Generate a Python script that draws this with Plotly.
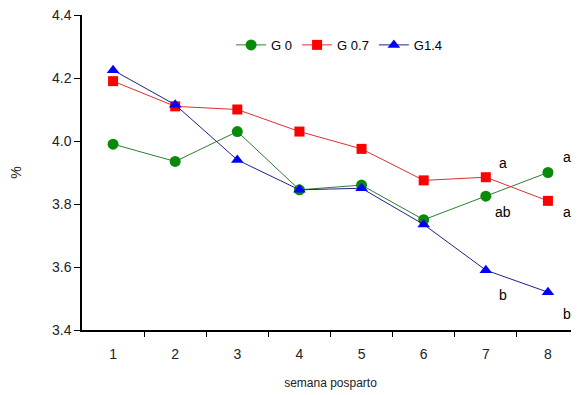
import plotly.graph_objects as go

weeks = [1, 2, 3, 4, 5, 6, 7, 8]
g0 = [3.99, 3.935, 4.03, 3.845, 3.86, 3.75, 3.825, 3.90]
g07 = [4.19, 4.11, 4.10, 4.03, 3.975, 3.875, 3.885, 3.81]
g14 = [4.225, 4.115, 3.94, 3.845, 3.85, 3.735, 3.59, 3.52]

sig_labels = ["a", "a", "ab", "a", "b", "b"]
sig_x = [7.28, 8.3, 7.28, 8.3, 7.28, 8.3]
sig_y = [3.93, 3.95, 3.775, 3.775, 3.51, 3.45]

boundaries = [1.5, 2.5, 3.5, 4.5, 5.5, 6.5, 7.5]

font = "Liberation Sans, Arial, sans-serif"

fig = go.Figure()
fig.add_trace(go.Scatter(x=weeks, y=g0, name="G 0", mode="lines+markers",
                         line=dict(color="#2e7d2e", width=1),
                         marker=dict(symbol="circle", size=11, color="#0a8a0a")))
fig.add_trace(go.Scatter(x=weeks, y=g07, name="G 0.7", mode="lines+markers",
                         line=dict(color="#e03030", width=1),
                         marker=dict(symbol="square", size=10, color="#ff0000")))
fig.add_trace(go.Scatter(x=weeks, y=g14, name="G1.4", mode="lines+markers",
                         line=dict(color="#202090", width=1),
                         marker=dict(symbol="triangle-up", size=11, color="#0000ff")))

for t, x, y in zip(sig_labels, sig_x, sig_y):
    fig.add_annotation(x=x, y=y, text=t, showarrow=False,
                       font=dict(family=font, size=14, color="black"))

# page body has an 8px default margin; size the figure to fill the remaining window
fig.update_layout(
    width=571, height=387,
    margin=dict(l=74, r=0, t=7, b=65, autoexpand=False),
    plot_bgcolor="white", paper_bgcolor="white",
    font=dict(family=font, size=14, color="#222222"),
    showlegend=True,
    legend=dict(orientation="h", x=0.30, y=0.905, xanchor="left", yanchor="middle",
                font=dict(size=13, color="black"), bgcolor="rgba(0,0,0,0)"),
    xaxis=dict(range=[0.5, 8.5], tickvals=weeks, ticks="", ticklabelstandoff=10,
               minor=dict(tickvals=boundaries, ticks="outside", ticklen=5, tickcolor="black"),
               showline=True, linecolor="black", linewidth=1.5,
               showgrid=False, zeroline=False, automargin=False,
               ticklabeloverflow="allow",
               title=dict(text="semana posparto", font=dict(size=12), standoff=18)),
    yaxis=dict(range=[3.4, 4.4], tickvals=[3.4, 3.6, 3.8, 4.0, 4.2, 4.4],
               ticktext=["3.4", "3.6", "3.8", "4.0", "4.2", "4.4"],
               ticks="outside", ticklen=6, tickcolor="black", showline=True,
               linecolor="black", linewidth=1.5, showgrid=False, zeroline=False,
               automargin=False, ticklabeloverflow="allow",
               title=dict(text="%", font=dict(size=14), standoff=28)),
)

fig.write_html("out.html")
